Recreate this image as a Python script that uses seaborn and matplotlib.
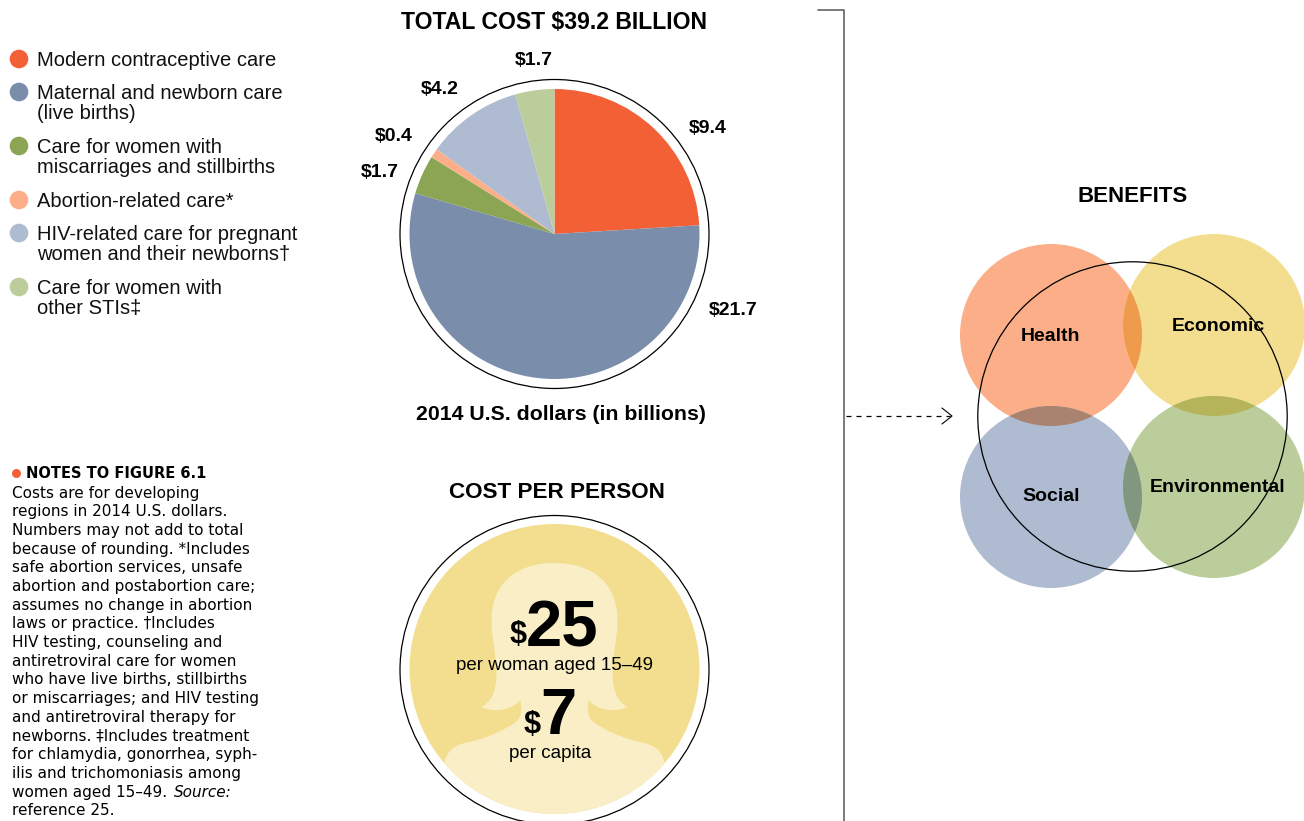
import numpy as np
import pandas as pd
import matplotlib
matplotlib.use("Agg")
import matplotlib.pyplot as plt
from matplotlib.patches import Circle, PathPatch
from matplotlib.path import Path
import seaborn as sns

categories = ["Modern contraceptive care", "Maternal and newborn care\n(live births)",
              "Care for women with\nmiscarriages and stillbirths", "Abortion-related care*",
              "HIV-related care for pregnant\nwomen and their newborns†", "Care for women with\nother STIs‡"]
costs = [9.4, 21.7, 1.7, 0.4, 4.2, 1.7]
cost_labels = ["$9.4", "$21.7", "$1.7", "$0.4", "$4.2", "$1.7"]
colors = ["#F46036", "#7A8DAB", "#8BA554", "#FCAE88", "#AFBBD1", "#BCCD9C"]

benefits = ["Health", "Economic", "Social", "Environmental"]
benefit_colors = ["#FBAE88", "#F2DE8E", "#AFBBD1", "#BCCD9C"]

notes = ["Costs are for developing", "regions in 2014 U.S. dollars.", "Numbers may not add to total",
         "because of rounding. *Includes", "safe abortion services, unsafe", "abortion and postabortion care;",
         "assumes no change in abortion", "laws or practice. †Includes", "HIV testing, counseling and",
         "antiretroviral care for women", "who have live births, stillbirths", "or miscarriages; and HIV testing",
         "and antiretroviral therapy for", "newborns. ‡Includes treatment", "for chlamydia, gonorrhea, syph-",
         "ilis and trichomoniasis among", "women aged 15–49.", "reference 25."]

sns.set_theme(style="white")
plt.rcParams["font.family"] = ["Liberation Sans", "DejaVu Sans"]

H = 821
def Y(py):
    return H - py

fig = plt.figure(figsize=(13.04, 8.21), dpi=100)
ax = fig.add_axes([0, 0, 1, 1])

def txt(x, py, s, size, bold=False, ha="center", **kw):
    ax.text(x, Y(py + 1.5), s, fontsize=size, fontweight="bold" if bold else "normal",
            ha=ha, va="center", color="black", **kw)

# pie
pie_c = (554.5, Y(234))
ax.pie(costs, colors=colors, startangle=90, counterclock=False, center=pie_c, radius=145,
       wedgeprops={"linewidth": 0})
ax.add_patch(Circle(pie_c, 154.5, fill=False, ec="black", lw=0.9))
txt(554, 21, "TOTAL COST $39.2 BILLION", 16.6, True)
txt(561, 413, "2014 U.S. dollars (in billions)", 15.3, True)
label_pos = [(708, 127), (733, 309), (380, 171), (394, 135), (440, 88), (534, 59)]
for (lx, ly), s in zip(label_pos, cost_labels):
    txt(lx, ly, s, 14, True)

# legend
legend_y = [59, 92, 146, 200, 233, 287]
sns.scatterplot(x=[19] * 6, y=[Y(v) for v in legend_y], hue=categories, palette=colors,
                s=180, linewidth=0, legend=False, ax=ax)
for ly, s in zip(legend_y, categories):
    ax.text(37, Y(ly - 8.5), s, fontsize=14.5, ha="left", va="top", linespacing=1.1, color="#111111")

# notes
ax.scatter([16], [Y(473)], s=42, color=colors[0], linewidth=0)
txt(26, 472, "NOTES TO FIGURE 6.1", 10.5, True, ha="left", family="DejaVu Sans")
for i, line in enumerate(notes):
    txt(12, 491.5 + i * 18.7, line, 11, ha="left", family="DejaVu Sans")
txt(174, 491.5 + 16 * 18.7, "Source:", 11, ha="left", style="italic", family="DejaVu Sans")

# cost per person
cx, cy = 554.5, Y(669)
txt(557, 491, "COST PER PERSON", 16.2, True)
disc = Circle((cx, cy), 145, color="#F2DE8E", lw=0)
ax.add_patch(disc)
ax.add_patch(Circle((cx, Y(670)), 154.5, fill=False, ec="black", lw=0.9))

# silhouette, left half as bezier segments, right half mirrored
half = [(0, 563),
        (-40, 563), (-63, 585), (-63, 620),
        (-63, 640), (-58, 655), (-58, 672),
        (-58, 685), (-60, 700), (-73, 707),
        (-62, 712), (-45, 712), (-34, 700),
        (-32, 715), (-34, 720), (-45, 726),
        (-60, 735), (-75, 740), (-90, 743),
        (-105, 747), (-108, 755), (-110, 762)]
base = (-145, 830)
pts = half + [base, (-base[0], base[1])] + [(-dx, y) for dx, y in half[::-1]]
codes = [Path.MOVETO] + [Path.CURVE4] * 21 + [Path.LINETO] * 3 + [Path.CURVE4] * 21
verts = [(cx + dx, Y(y)) for dx, y in pts]
person = PathPatch(Path(verts, codes), fc="#F9EEC6", lw=0)
ax.add_patch(person)
person.set_clip_path(disc)

txt(518, 634, "$", 22, True)
txt(562.5, 628, "25", 47, True)
txt(554, 664, "per woman aged 15–49", 13.5)
txt(532, 723, "$", 22, True)
txt(558.5, 715, "7", 47, True)
txt(550, 752, "per capita", 13.5)

# bracket and arrow
ax.plot([818, 844, 844], [Y(10), Y(10), Y(821)], color="#707070", lw=1.3)
ax.plot([846, 950], [Y(416), Y(416)], color="black", lw=0.9, ls=(0, (4, 4)))
ax.plot([942, 952, 942], [Y(408), Y(416), Y(424)], color="black", lw=0.8)

# benefits venn
centers = [(1051, Y(335)), (1214, Y(325)), (1051, Y(497)), (1214, Y(487))]
txt(1133, 195, "BENEFITS", 16, True)
discs = []
for c, col in zip(centers, benefit_colors):
    d = Circle(c, 91, color=col, lw=0)
    ax.add_patch(d)
    discs.append(d)
for a, b, col in [(0, 1, "#EF9B4E"), (0, 2, "#A98270"), (1, 3, "#B5B45A"), (2, 3, "#82977F")]:
    lens = Circle(centers[b], 91, color=col, lw=0)
    ax.add_patch(lens)
    lens.set_clip_path(discs[a])
ax.add_patch(Circle((1132.5, Y(416.5)), 154.7, fill=False, ec="black", lw=0.9))
label_xy = [(1051, 335), (1218, 325), (1051, 495), (1218, 486)]
for (lx, ly), s in zip(label_xy, benefits):
    txt(lx, ly, s, 14, True)

ax.set_xlim(0, 1304)
ax.set_ylim(0, H)
ax.axis("off")
fig.savefig("out.png", dpi=100)
